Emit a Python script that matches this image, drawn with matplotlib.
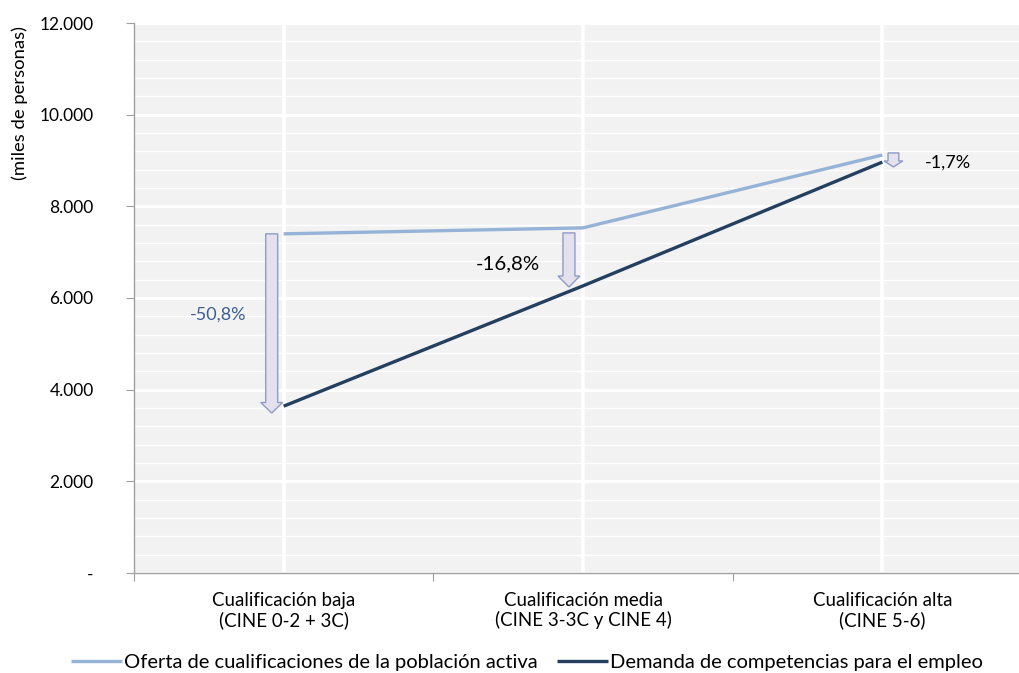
import matplotlib
matplotlib.use("Agg")
import matplotlib.pyplot as plt
from matplotlib.patches import FancyArrow
from matplotlib.ticker import MultipleLocator, FixedLocator

plt.rcParams['font.family'] = ['Lato', 'DejaVu Sans']

categories = ["Cualificación baja\n(CINE 0-2 + 3C)",
              "Cualificación media\n(CINE 3-3C y CINE 4)",
              "Cualificación alta\n(CINE 5-6)"]
oferta = [7400, 7530, 9120]
demanda = [3640, 6265, 8965]
variacion = ["-50,8%", "-16,8%", "-1,7%"]
yticks = [0, 2000, 4000, 6000, 8000, 10000, 12000]
ytick_labels = ["-", "2.000", "4.000", "6.000", "8.000", "10.000", "12.000"]

c_oferta = "#95B3D7"
c_demanda = "#243F60"
bg = "#F2F2F2"

fig = plt.figure(figsize=(10.19, 6.73), dpi=100)
W, H = 1019, 673
left, right, top, bottom = 134, 1032, 23, 573
ax = fig.add_axes([left / W, 1 - bottom / H, (right - left) / W, (bottom - top) / H])
ax.set_facecolor(bg)

x = list(range(len(categories)))
ax.set_xlim(-0.5, 2.5)
ax.set_ylim(0, 12000)

# grid: major and minor horizontal lines, vertical lines at categories
ax.yaxis.set_major_locator(FixedLocator(yticks))
ax.yaxis.set_minor_locator(MultipleLocator(400))
ax.grid(which='major', axis='y', color='white', linewidth=2.2, zorder=0)
ax.grid(which='minor', axis='y', color='white', linewidth=1.0, zorder=0)
for xi in x:
    ax.axvline(xi, color='white', linewidth=2.6, zorder=0.5)
ax.set_axisbelow(True)

ax.plot(x, oferta, color=c_oferta, linewidth=2.4, solid_capstyle='butt',
        label="Oferta de cualificaciones de la población activa", zorder=3)
ax.plot(x, demanda, color=c_demanda, linewidth=2.4, solid_capstyle='butt',
        label="Demanda de competencias para el empleo", zorder=3)

# block arrows marking the gap between supply and demand
arrow_dx = [-0.04, -0.047, 0.037]
arrow_top_off = [0, -110, 45]
arrow_tip_off = [-150, -25, -105]
body_w = [0.04, 0.04, 0.036]
head_w = [0.073, 0.073, 0.063]
head_l = [230, 240, 130]
for i in range(3):
    y0 = oferta[i] + arrow_top_off[i]
    y1 = demanda[i] + arrow_tip_off[i]
    arr = FancyArrow(x[i] + arrow_dx[i], y0, 0, y1 - y0, width=body_w[i],
                     head_width=head_w[i], head_length=head_l[i],
                     length_includes_head=True, facecolor="#E4E0EE",
                     edgecolor="#8E9CC6", linewidth=1.0, zorder=2)
    ax.add_patch(arr)

# percentage labels
ax.text(-0.22, 5640, variacion[0], color="#3D5F96", fontsize=13,
        ha='center', va='center')
ax.text(0.75, 6750, variacion[1], color="black", fontsize=14.7,
        ha='center', va='center')
ax.text(2.22, 8960, variacion[2], color="black", fontsize=13,
        ha='center', va='center')

# axes styling
for s in ['top', 'right']:
    ax.spines[s].set_visible(False)
for s in ['left', 'bottom']:
    ax.spines[s].set_color('#A0A0A0')
    ax.spines[s].set_linewidth(1.0)

ax.set_yticklabels(ytick_labels)
ax.tick_params(axis='y', which='major', length=6, color='#A0A0A0', pad=23,
               labelsize=12.5)
for lbl in ax.get_yticklabels():
    lbl.set_horizontalalignment('right')
ax.tick_params(axis='y', which='minor', length=0)

ax.set_xticks([-0.5, 0.5, 1.5, 2.5])
ax.set_xticklabels([])
ax.set_xticks(x, minor=True)
ax.set_xticklabels(categories, minor=True, fontsize=13.4, linespacing=1.1)
ax.tick_params(axis='x', which='major', length=6, color='#A0A0A0')
ax.tick_params(axis='x', which='minor', length=0, pad=14)

fig.text(20 / W, 1 - 103 / H, "(miles de personas)", rotation=90,
         ha='center', va='center', fontsize=13.3)

fig.legend(loc='center', bbox_to_anchor=(527 / W, 1 - 662 / H), ncol=2,
           frameon=False, fontsize=14.5, handlelength=2.5, handletextpad=0.1,
           columnspacing=1.0)

fig.savefig("out.png", dpi=100)
